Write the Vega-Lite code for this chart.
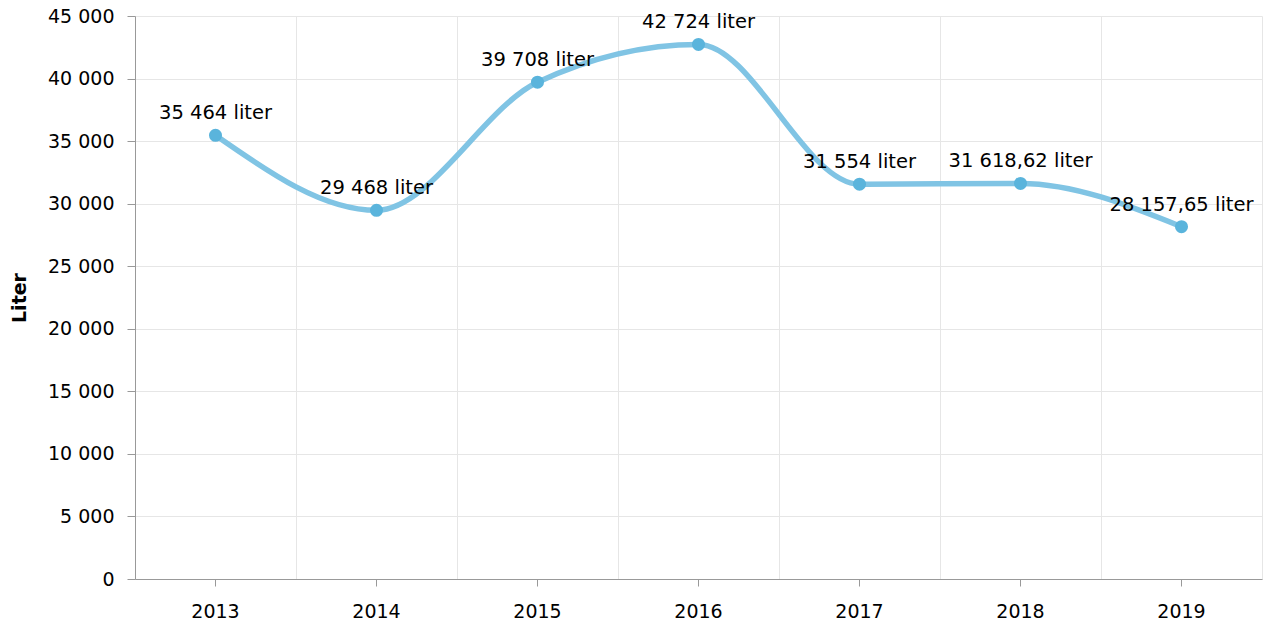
{
  "$schema": "https://vega.github.io/schema/vega-lite/v6.json",
  "width": 1270,
  "height": 625,
  "autosize": {"type": "fit", "contains": "padding"},
  "padding": {"left": 10, "top": 7, "right": 8, "bottom": 4},
  "config": {
    "font": "DejaVu Sans",
    "view": {"stroke": null},
    "locale": {"number": {"decimal": ",", "thousands": " ", "grouping": [3], "currency": ["", " kr"]}}
  },
  "data": {
    "values": [
      {"year": "2013", "value": 35464, "label": "35 464 liter"},
      {"year": "2014", "value": 29468, "label": "29 468 liter"},
      {"year": "2015", "value": 39708, "label": "39 708 liter"},
      {"year": "2016", "value": 42724, "label": "42 724 liter"},
      {"year": "2017", "value": 31554, "label": "31 554 liter"},
      {"year": "2018", "value": 31618.62, "label": "31 618,62 liter"},
      {"year": "2019", "value": 28157.65, "label": "28 157,65 liter"}
    ]
  },
  "encoding": {
    "y": {
      "field": "value",
      "type": "quantitative",
      "scale": {"domain": [0, 45000], "nice": false},
      "axis": {
        "values": [0, 5000, 10000, 15000, 20000, 25000, 30000, 35000, 40000, 45000],
        "format": ",.0f",
        "title": "Liter",
        "titleFontSize": 19,
        "titleFontWeight": "bold",
        "titleColor": "#000000",
        "titlePadding": 18,
        "labelFontSize": 19,
        "labelColor": "#000000",
        "labelPadding": 13,
        "tickSize": 8,
        "tickColor": "#999999",
        "domainColor": "#999999",
        "gridColor": "#e6e6e6",
        "grid": true
      }
    }
  },
  "layer": [
    {
      "mark": {"type": "line", "interpolate": "monotone", "color": "#80c4e4", "strokeWidth": 5.5},
      "encoding": {
        "x": {
          "field": "year",
          "type": "ordinal",
          "scale": {"type": "band", "paddingInner": 0, "paddingOuter": 0},
          "axis": {"orient": "top", "tickBand": "extent", "labels": false, "ticks": false, "domain": false, "grid": true, "gridColor": "#e6e6e6", "title": null}
        }
      }
    },
    {
      "mark": {"type": "circle", "size": 170, "color": "#5ab4dc", "opacity": 1},
      "encoding": {
        "x": {
          "field": "year",
          "type": "ordinal",
          "scale": {"type": "band", "paddingInner": 0, "paddingOuter": 0},
          "axis": {"orient": "bottom", "grid": false, "title": null, "labelAngle": 0, "labelFontSize": 19, "labelColor": "#000000", "labelPadding": 16, "tickSize": 7, "tickColor": "#999999", "domainColor": "#999999"}
        }
      }
    },
    {
      "mark": {"type": "text", "dy": -16, "baseline": "alphabetic", "fontSize": 19.5, "color": "#000000"},
      "encoding": {
        "x": {
          "field": "year",
          "type": "ordinal",
          "scale": {"type": "band", "paddingInner": 0, "paddingOuter": 0},
          "axis": null
        },
        "text": {"field": "label"}
      }
    }
  ],
  "resolve": {"axis": {"x": "independent"}}
}
